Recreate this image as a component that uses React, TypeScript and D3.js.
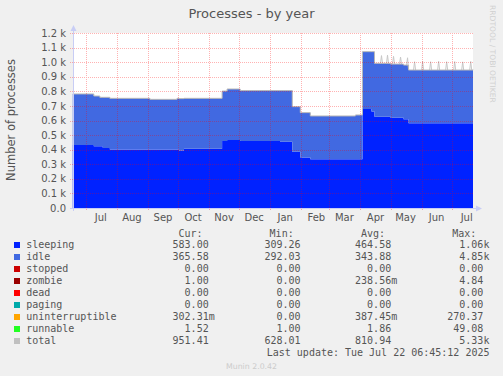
import React from "react";
import * as d3 from "d3";

const W = 503;
const H = 376;

// segment start dates (step data)
const segDates = [
  "2024-06-18", "2024-07-09", "2024-07-15", "2024-07-18", "2024-07-25",
  "2024-09-03", "2024-09-30", "2024-10-02", "2024-10-07", "2024-11-14",
  "2024-11-19", "2024-12-02", "2025-01-11", "2025-01-23", "2025-01-31",
  "2025-02-10", "2025-03-27", "2025-04-03", "2025-04-12", "2025-04-15",
  "2025-05-01", "2025-05-14", "2025-05-19", "2025-07-22T06:45:12",
];
const sleepingVals = [
  432, 423, 423, 411, 402, 402, 402, 395, 407, 459, 466, 459, 455, 386, 347,
  334, 334, 679, 661, 626, 619, 608, 581, 583,
];
const idleVals = [
  350, 345, 336, 348, 350, 343, 350, 355, 345, 343, 350, 346, 350, 309, 307,
  297, 304, 393, 411, 366, 368, 372, 365, 366,
];
// short peaks of the total line
const spikeDates = [
  "2025-04-22", "2025-04-28", "2025-05-04", "2025-05-11", "2025-05-18",
  "2025-05-25", "2025-06-02", "2025-06-10", "2025-06-18", "2025-06-26",
  "2025-07-04", "2025-07-12", "2025-07-20",
];
const spikeVals = [1045, 1048, 1040, 1035, 1030, 1003, 1005, 1003, 1006, 1003, 1004, 1002, 1005];

const yTickVals = [0, 100, 200, 300, 400, 500, 600, 700, 800, 900, 1000, 1100, 1200];
const yTickLabels = ["0.0", "0.1 k", "0.2 k", "0.3 k", "0.4 k", "0.5 k", "0.6 k", "0.7 k", "0.8 k", "0.9 k", "1.0 k", "1.1 k", "1.2 k"];
const monthLabels = ["Jul", "Aug", "Sep", "Oct", "Nov", "Dec", "Jan", "Feb", "Mar", "Apr", "May", "Jun", "Jul"];

const legendNames = ["sleeping", "idle", "stopped", "zombie", "dead", "paging", "uninterruptible", "runnable", "total"];
const legendColors = ["#0022ff", "#4169e1", "#cc0000", "#990000", "#ff0000", "#00aaaa", "#ffa500", "#22ff22", "#c0c0c0"];
const curVals = ["583.00", "365.58", "0.00", "1.00", "0.00", "0.00", "302.31m", "1.52", "951.41"];
const minVals = ["309.26", "292.03", "0.00", "0.00", "0.00", "0.00", "0.00", "1.00", "628.01"];
const avgVals = ["464.58", "343.88", "0.00", "238.56m", "0.00", "0.00", "387.45m", "1.86", "810.94"];
const maxVals = ["1.06k", "4.85k", "0.00", "4.84", "0.00", "0.00", "270.37", "49.08", "5.33k"];

const parse = (s: string) => (s.length > 10 ? new Date(s) : new Date(s + "T00:00:00"));

type Pt = { date: Date; s: number; i: number };

export default function App() {
  const x = d3
    .scaleTime()
    .domain([new Date("2024-06-18T06:00:00"), new Date("2025-07-22T06:45:12")])
    .range([73, 473]);
  const y = d3.scaleLinear().domain([0, 1200]).range([208, 33]);

  const pts: Pt[] = segDates.map((d, k) => ({ date: parse(d), s: sleepingVals[k], i: idleVals[k] }));

  const sleepArea = d3
    .area<Pt>()
    .x((d) => x(d.date))
    .y0(y(0))
    .y1((d) => y(d.s))
    .curve(d3.curveStepAfter)(pts) as string;
  const idleArea = d3
    .area<Pt>()
    .x((d) => x(d.date))
    .y0((d) => y(d.s))
    .y1((d) => y(d.s + d.i))
    .curve(d3.curveStepAfter)(pts) as string;

  const totalAt = (t: Date) => {
    let v = pts[0].s + pts[0].i;
    for (const p of pts) if (p.date <= t) v = p.s + p.i;
    return v;
  };
  const totPts: [Date, number][] = pts.map((p) => [p.date, p.s + p.i]);
  const totalLine = d3
    .line<[Date, number]>()
    .x((d) => x(d[0]))
    .y((d) => y(d[1]))
    .curve(d3.curveStepAfter)(totPts) as string;

  const spikeLine = d3
    .line<[Date, number]>()
    .x((d) => x(d[0]))
    .y((d) => y(d[1]));
  const spikePaths = spikeDates.map((sd, k) => {
    const d0 = parse(sd);
    const a = new Date(d0.getTime() - 86400000);
    const b = new Date(d0.getTime() + 86400000);
    return spikeLine([
      [a, totalAt(a)],
      [d0, spikeVals[k]],
      [b, totalAt(b)],
    ]) as string;
  });

  const months = d3.timeMonth.range(new Date(2024, 6, 1), new Date(2025, 7, 1));

  // dotted grid as 1px squares (1 on, 1 off)
  let gridPath = "";
  yTickVals
    .filter((v) => v > 0)
    .forEach((v) => {
      const yy = Math.round(y(v));
      for (let xx = 70; xx < 473; xx += 2) gridPath += `M${xx},${yy}h1v1h-1z`;
    });
  months.forEach((m) => {
    const xx = Math.round(x(m));
    for (let yy = 33; yy < 211; yy += 2) gridPath += `M${xx},${yy}h1v1h-1z`;
  });

  const axisColor = "#c8cdf5";
  const textColor = "#555";
  const sans = "'DejaVu Sans', sans-serif";
  const mono = "'DejaVu Sans Mono', monospace";

  const colEnds = [208.7, 300.5, 391.2, 483.4];
  const headers = ["Cur:", "Min:", "Avg:", "Max:"];
  const headerStarts = [178.5, 269.6, 361, 452.3];
  const cols = [curVals, minVals, avgVals, maxVals];

  const split = (s: string) => {
    const m = s.match(/^([\d.]+)([a-zA-Z]?)$/);
    return m ? [m[1], m[2]] : [s, ""];
  };

  return (
    <svg width={W} height={H} style={{ position: "absolute", left: 0, top: 0 }} xmlns="http://www.w3.org/2000/svg">
      <rect x={0} y={0} width={W} height={H} fill="#f0f0f0" />
      <text x={251.5} y={18} textAnchor="middle" fontFamily={sans} fontSize={13} fill={textColor}>
        Processes - by year
      </text>
      <text transform="translate(490,5) rotate(90)" fontFamily={sans} fontSize={7.6} fill="#d0d0d0">
        RRDTOOL / TOBI OETIKER
      </text>
      <text
        transform="translate(14.5,120) rotate(-90)"
        textAnchor="middle"
        fontFamily={sans}
        fontSize={11.5}
        fill={textColor}
      >
        Number of processes
      </text>

      <rect x={73} y={33} width={400} height={175} fill="#ffffff" />
      <path d={sleepArea} fill="#0022ff" />
      <path d={idleArea} fill="#4169e1" />
      {spikePaths.map((p, k) => (
        <path key={"sp" + k} d={p} fill="none" stroke="#c8c8c8" strokeWidth={1} />
      ))}
      <path d={totalLine} fill="none" stroke="#b8b8b8" strokeWidth={1} />

      <path d={gridPath} fill="rgba(255,0,0,0.3)" shapeRendering="crispEdges" />

      {yTickVals.map((v, k) => (
        <text key={"yt" + k} x={66} y={y(v) + 3.6} textAnchor="end" fontFamily={sans} fontSize={10} fill={textColor}>
          {yTickLabels[k]}
        </text>
      ))}
      {months.map((m, k) => (
        <text
          key={"mt" + k}
          x={x(d3.timeDay.offset(m, 15))}
          y={221}
          textAnchor="middle"
          fontFamily={sans}
          fontSize={10}
          fill={textColor}
        >
          {monthLabels[k]}
        </text>
      ))}

      {/* axes */}
      <line x1={73.5} x2={73.5} y1={211} y2={30} stroke={axisColor} />
      <path d="M70.5,31 L73.5,25 L76.5,31 Z" fill={axisColor} />
      <line x1={70} x2={477} y1={208.5} y2={208.5} stroke={axisColor} />
      <path d="M476,205.5 L482,208.5 L476,211.5 Z" fill={axisColor} />

      {/* legend */}
      {headers.map((h, k) => (
        <text key={"h" + k} x={headerStarts[k]} y={236.5} fontFamily={mono} fontSize={10} fill={textColor}>
          {h}
        </text>
      ))}
      {legendNames.map((n, r) => {
        const yy = 248 + r * 12;
        return (
          <g key={"l" + r}>
            <rect x={14} y={yy - 6} width={6} height={6} fill={legendColors[r]} />
            <text x={26.2} y={yy} fontFamily={mono} fontSize={10} fill={textColor}>
              {n}
            </text>
            {cols.map((c, ci) => {
              const [num, suf] = split(c[r]);
              return (
                <g key={"c" + ci}>
                  <text x={colEnds[ci]} y={yy} textAnchor="end" fontFamily={mono} fontSize={10} fill={textColor}>
                    {num}
                  </text>
                  {suf && (
                    <text x={colEnds[ci]} y={yy} fontFamily={mono} fontSize={10} fill={textColor}>
                      {suf}
                    </text>
                  )}
                </g>
              );
            })}
          </g>
        );
      })}
      <text x={489.5} y={356} textAnchor="end" fontFamily={mono} fontSize={10} fill={textColor}>
        Last update: Tue Jul 22 06:45:12 2025
      </text>
      <text x={251.5} y={368.5} textAnchor="middle" fontFamily={sans} fontSize={7.8} fill="#cccccc">
        Munin 2.0.42
      </text>
    </svg>
  );
}
